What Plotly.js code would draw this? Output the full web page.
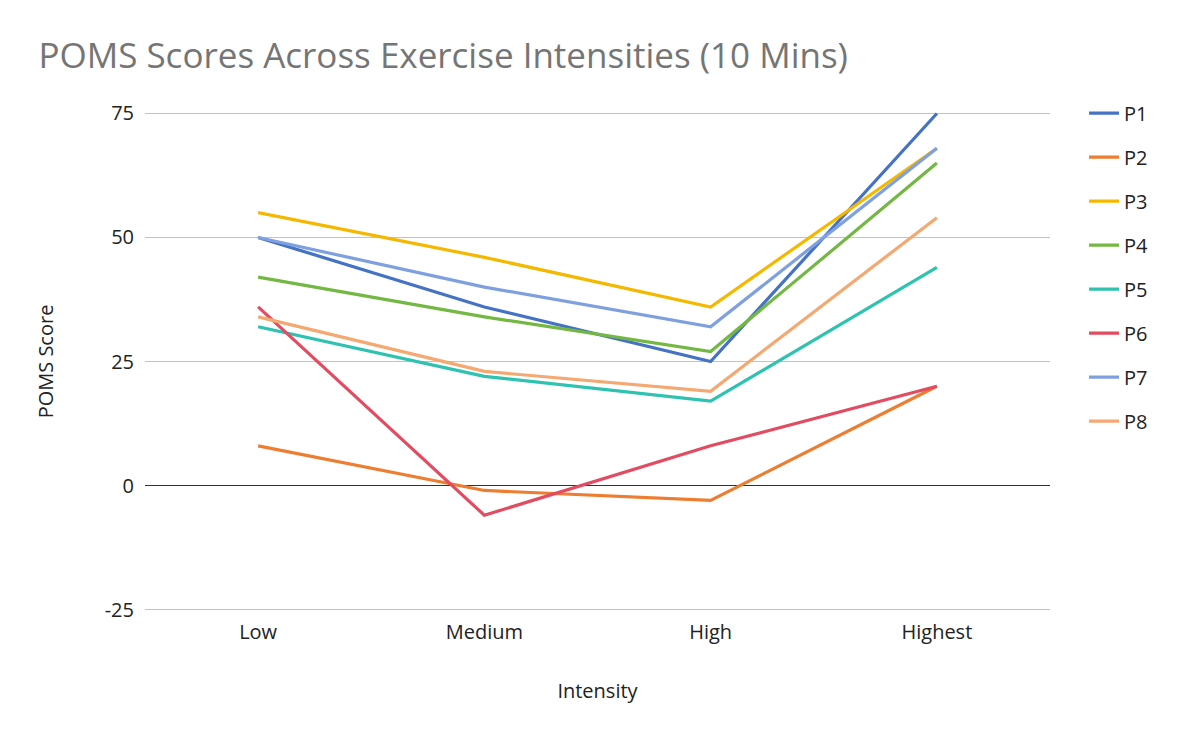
<!DOCTYPE html>
<html>
<head>
<meta charset="utf-8">
<script src="https://cdn.plot.ly/plotly-3.0.1.min.js"></script>
<style>html,body{margin:0;padding:0;background:#fff;}#chart{width:1200px;height:742px;}</style>
</head>
<body>
<div id="chart"></div>
<script>
const categories = ["Low", "Medium", "High", "Highest"];
const seriesNames = ["P1", "P2", "P3", "P4", "P5", "P6", "P7", "P8"];
const P1 = [50, 36, 25, 75];
const P2 = [8, -1, -3, 20];
const P3 = [55, 46, 36, 68];
const P4 = [42, 34, 27, 65];
const P5 = [32, 22, 17, 44];
const P6 = [36, -6, 8, 20];
const P7 = [50, 40, 32, 68];
const P8 = [34, 23, 19, 54];
const yTicks = [-25, 0, 25, 50, 75];
const colors = ["#4472C4", "#ED7D31", "#F5B800", "#72B843", "#2EC2B1", "#E34B60", "#7FA0DF", "#F4A872"];

const seriesValues = [P1, P2, P3, P4, P5, P6, P7, P8];
const traces = seriesValues.map((vals, i) => ({
  type: "scatter",
  mode: "lines",
  name: seriesNames[i],
  legendgroup: seriesNames[i],
  x: categories,
  y: vals,
  line: {color: colors[i], width: 3.2}
}));

const layout = {
  width: 1200,
  height: 742,
  paper_bgcolor: "#fff",
  plot_bgcolor: "#fff",
  margin: {l: 145, r: 150, t: 112, b: 131},
  font: {family: "Open Sans, Noto Sans, sans-serif", color: "#222", size: 20},
  title: {
    text: "POMS Scores Across Exercise Intensities (10 Mins)",
    x: 0.032, xanchor: "left", y: 0.925, yanchor: "middle",
    font: {size: 35, color: "#757575", family: "Open Sans, Noto Sans, sans-serif"}
  },
  xaxis: {
    type: "category",
    range: [-0.5, 3.5],
    showgrid: false,
    zeroline: false,
    showline: false,
    ticks: "",
    ticklabelstandoff: 7,
    tickfont: {size: 20, color: "#222"},
    title: {text: "Intensity", font: {size: 20, color: "#222"}, standoff: 39}
  },
  yaxis: {
    range: [-25.3, 75.3],
    tickvals: yTicks,
    ticktext: yTicks.map(String),
    showgrid: true,
    gridcolor: "#c2c2c2",
    gridwidth: 1.6,
    zeroline: true,
    zerolinecolor: "#333",
    zerolinewidth: 1.6,
    ticks: "",
    ticklabelstandoff: 10,
    tickfont: {size: 20, color: "#222"},
    title: {text: "POMS Score", font: {size: 20, color: "#222"}, standoff: 45}
  },
  legend: {
    x: 1.0376, xanchor: "left", y: 1.037, yanchor: "top",
    font: {size: 20, color: "#222"},
    tracegroupgap: 15,
    itemwidth: 30
  },
  showlegend: true
};

Plotly.newPlot("chart", traces, layout, {displayModeBar: false, staticPlot: true});
</script>
</body>
</html>
